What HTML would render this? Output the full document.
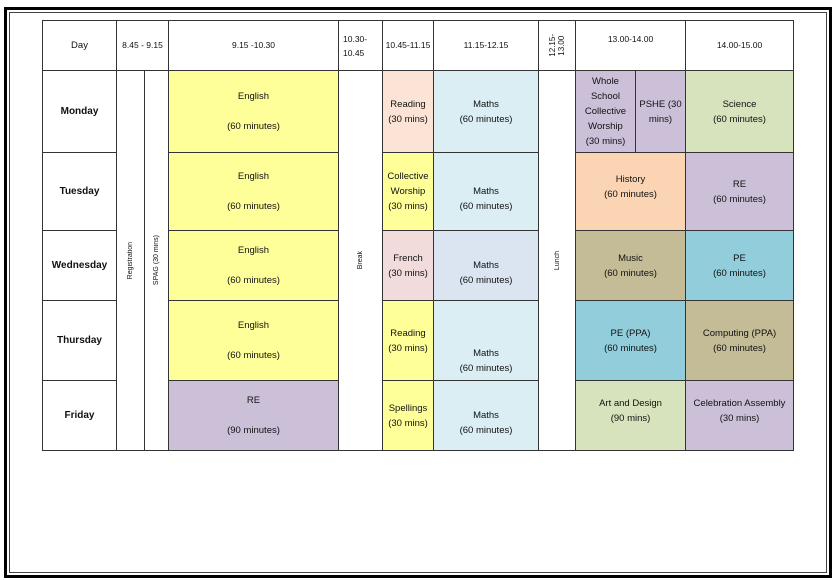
<!DOCTYPE html>
<html><head><meta charset="utf-8"><style>
html,body{margin:0;padding:0;background:#fff;}
body{width:835px;height:580px;position:relative;overflow:hidden;font-family:"Liberation Sans",sans-serif;color:#111;}
.f1{position:absolute;left:4px;top:7px;width:828px;height:571px;box-sizing:border-box;border:3px solid #000;}
.f2{position:absolute;left:9px;top:12px;width:818px;height:561px;box-sizing:border-box;border:1px solid #444;}
.c{position:absolute;box-sizing:border-box;border:1px solid #333;display:flex;align-items:center;justify-content:center;text-align:center;font-size:9.5px;line-height:15px;}
.b{font-weight:bold;font-size:10px;}
.r{writing-mode:vertical-rl;transform:rotate(180deg);font-size:7px;line-height:9px;}
.y{background:#ffff99}.pe{background:#fbe4d5}.lb{background:#daeef3}.li{background:#ccc0d9}
.g{background:#d6e3bc}.o{background:#fbd4b4}.t{background:#c4bc96}.tl{background:#92cddc}
.pk{background:#f2dbdb}.bg{background:#dbe5f1}
</style></head><body>
<div class="f1"></div><div class="f2"></div>

<!-- header -->
<div class="c" style="left:42px;top:20px;width:75px;height:51px;">Day</div>
<div class="c" style="left:116px;top:20px;width:53px;height:51px;font-size:8.5px;">8.45 - 9.15</div>
<div class="c" style="left:168px;top:20px;width:171px;height:51px;font-size:8.5px;">9.15 -10.30</div>
<div class="c" style="left:338px;top:20px;width:45px;height:51px;font-size:8.5px;line-height:14px;justify-content:flex-start;padding-left:4px;text-align:left;">10.30-<br>10.45</div>
<div class="c" style="left:382px;top:20px;width:52px;height:51px;font-size:8.5px;">10.45-11.15</div>
<div class="c" style="left:433px;top:20px;width:106px;height:51px;font-size:8.5px;">11.15-12.15</div>
<div class="c" style="left:538px;top:20px;width:38px;height:51px;"><span class="r" style="font-size:8px;">12.15-<br>13.00</span></div>
<div class="c" style="left:575px;top:20px;width:111px;height:51px;font-size:8.5px;align-items:flex-start;padding-top:11px;">13.00-14.00</div>
<div class="c" style="left:685px;top:20px;width:109px;height:51px;font-size:8.5px;">14.00-15.00</div>

<!-- days -->
<div class="c b" style="left:42px;top:70px;width:75px;height:83px;">Monday</div>
<div class="c b" style="left:42px;top:152px;width:75px;height:79px;">Tuesday</div>
<div class="c b" style="left:42px;top:230px;width:75px;height:71px;">Wednesday</div>
<div class="c b" style="left:42px;top:300px;width:75px;height:81px;">Thursday</div>
<div class="c b" style="left:42px;top:380px;width:75px;height:71px;">Friday</div>

<div class="c" style="left:116px;top:70px;width:29px;height:381px;"><span class="r">Registration</span></div>
<div class="c" style="left:144px;top:70px;width:25px;height:381px;"><span class="r">SPAG (30 mins)</span></div>

<div class="c y" style="left:168px;top:70px;width:171px;height:83px;">English<br><br>(60 minutes)</div>
<div class="c y" style="left:168px;top:152px;width:171px;height:79px;">English<br><br>(60 minutes)</div>
<div class="c y" style="left:168px;top:230px;width:171px;height:71px;">English<br><br>(60 minutes)</div>
<div class="c y" style="left:168px;top:300px;width:171px;height:81px;">English<br><br>(60 minutes)</div>
<div class="c li" style="left:168px;top:380px;width:171px;height:71px;">RE<br><br>(90 minutes)</div>

<div class="c" style="left:338px;top:70px;width:45px;height:381px;"><span class="r">Break</span></div>

<div class="c pe" style="left:382px;top:70px;width:52px;height:83px;">Reading<br>(30 mins)</div>
<div class="c y" style="left:382px;top:152px;width:52px;height:79px;">Collective<br>Worship<br>(30 mins)</div>
<div class="c pk" style="left:382px;top:230px;width:52px;height:71px;">French<br>(30 mins)</div>
<div class="c y" style="left:382px;top:300px;width:52px;height:81px;">Reading<br>(30 mins)</div>
<div class="c y" style="left:382px;top:380px;width:52px;height:71px;">Spellings<br>(30 mins)</div>

<div class="c lb" style="left:433px;top:70px;width:106px;height:83px;">Maths<br>(60 minutes)</div>
<div class="c lb" style="left:433px;top:152px;width:106px;height:79px;padding-top:14px;">Maths<br>(60 minutes)</div>
<div class="c bg" style="left:433px;top:230px;width:106px;height:71px;padding-top:14px;">Maths<br>(60 minutes)</div>
<div class="c lb" style="left:433px;top:300px;width:106px;height:81px;align-items:flex-end;padding-bottom:4px;">Maths<br>(60 minutes)</div>
<div class="c lb" style="left:433px;top:380px;width:106px;height:71px;padding-top:14px;">Maths<br>(60 minutes)</div>

<div class="c" style="left:538px;top:70px;width:38px;height:381px;"><span class="r">Lunch</span></div>

<div class="c li" style="left:575px;top:70px;width:61px;height:83px;">Whole<br>School<br>Collective<br>Worship<br>(30 mins)</div>
<div class="c li" style="left:635px;top:70px;width:51px;height:83px;">PSHE (30<br>mins)</div>
<div class="c g" style="left:685px;top:70px;width:109px;height:83px;">Science<br>(60 minutes)</div>

<div class="c o" style="left:575px;top:152px;width:111px;height:79px;padding-bottom:10px;">History<br>(60 minutes)</div>
<div class="c li" style="left:685px;top:152px;width:109px;height:79px;">RE<br>(60 minutes)</div>

<div class="c t" style="left:575px;top:230px;width:111px;height:71px;">Music<br>(60 minutes)</div>
<div class="c tl" style="left:685px;top:230px;width:109px;height:71px;">PE<br>(60 minutes)</div>

<div class="c tl" style="left:575px;top:300px;width:111px;height:81px;">PE (PPA)<br>(60 minutes)</div>
<div class="c t" style="left:685px;top:300px;width:109px;height:81px;">Computing (PPA)<br>(60 minutes)</div>

<div class="c g" style="left:575px;top:380px;width:111px;height:71px;padding-bottom:10px;">Art and Design<br>(90 mins)</div>
<div class="c li" style="left:685px;top:380px;width:109px;height:71px;padding-bottom:10px;">Celebration Assembly<br>(30 mins)</div>
</body></html>
